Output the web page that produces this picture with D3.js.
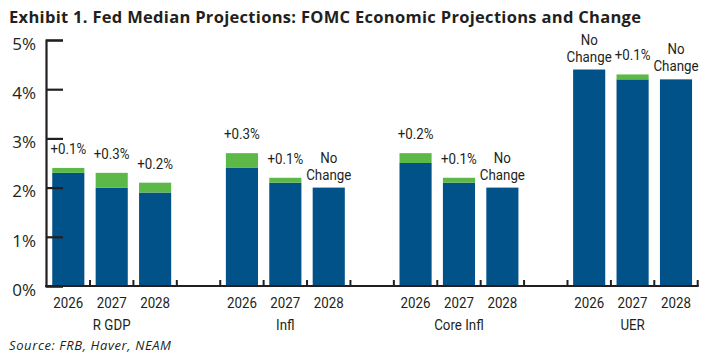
<!DOCTYPE html>
<html><head><meta charset="utf-8">
<script src="https://cdn.jsdelivr.net/npm/d3@7"></script>
<style>
html,body{margin:0;padding:0;background:#fff;}
svg{display:block;}
</style></head>
<body><svg id="chart" width="715" height="356"></svg>
<script>
const groups = ["R GDP", "Infl", "Core Infl", "UER"];
const years = ["2026", "2027", "2028"];
// base (previous projection) values per group, per year
const baseValues = [
  [2.3, 2.0, 1.9],
  [2.4, 2.1, 2.0],
  [2.5, 2.1, 2.0],
  [4.4, 4.2, 4.2]
];
// change vs previous projection
const changeValues = [
  [0.1, 0.3, 0.2],
  [0.3, 0.1, 0.0],
  [0.2, 0.1, 0.0],
  [0.0, 0.1, 0.0]
];
const yTicks = [0, 1, 2, 3, 4, 5];
const titleText = "Exhibit 1. Fed Median Projections: FOMC Economic Projections and Change";
const sourceText = "Source: FRB, Haver, NEAM";

const BLUE = "#015289", GREEN = "#5cb947", INK = "#231f20";
const COND_FONT = "Roboto, 'Noto Sans', sans-serif", COND_SIZE = 15.5, COND_SX = 0.86;

// slots: 3 years per group, one empty slot between groups
const slots = [];
groups.forEach((g, gi) => {
  years.forEach((y, yi) => slots.push({key: g + "|" + y, g: gi, y: yi}));
  if (gi < groups.length - 1) slots.push({key: "gap" + gi, gap: true});
});

const svg = d3.select("#chart");
const pLeft = 46.6, pRight = 697.7, pTop = 40, pBottom = 286;

const x = d3.scaleBand().domain(slots.map(s => s.key)).range([pLeft, pRight]).paddingInner(0.26).paddingOuter(0.13);
const yS = d3.scaleLinear().domain([0, 5]).range([pBottom, pTop]);

function condText(parent, cx, y, lines, lineH) {
  const g = parent.append("g").attr("transform", `translate(${cx},${y}) scale(${COND_SX},1)`);
  const t = g.append("text").attr("font-family", COND_FONT).attr("font-size", COND_SIZE)
    .attr("fill", INK).attr("text-anchor", "middle");
  lines.forEach((l, i) => t.append("tspan").attr("x", 0).attr("y", i * (lineH || 0)).text(l));
  return t;
}

// title
svg.append("text").attr("x", 9).attr("y", 23)
  .attr("font-family", "'Open Sans', sans-serif").attr("font-weight", 700)
  .attr("font-size", 16.5).attr("fill", INK).text(titleText)
  .attr("textLength", 632).attr("lengthAdjust", "spacing");

// bars
const data = slots.filter(s => !s.gap).map(s => ({
  key: s.key, year: years[s.y], base: baseValues[s.g][s.y], change: changeValues[s.g][s.y]
}));
const gBars = svg.append("g");
gBars.selectAll("rect.base").data(data).join("rect").attr("class", "base")
  .attr("x", d => x(d.key)).attr("width", x.bandwidth())
  .attr("y", d => yS(d.base)).attr("height", d => yS(0) - yS(d.base)).attr("fill", BLUE);
gBars.selectAll("rect.chg").data(data.filter(d => d.change > 0)).join("rect").attr("class", "chg")
  .attr("x", d => x(d.key)).attr("width", x.bandwidth())
  .attr("y", d => yS(d.base + d.change)).attr("height", d => yS(d.base) - yS(d.base + d.change)).attr("fill", GREEN);

// data labels
const lab = svg.append("g");
data.forEach(d => {
  const cx = x(d.key) + x.bandwidth() / 2;
  const topY = yS(d.base + d.change);
  if (d.change > 0) condText(lab, cx, topY - 14, ["+" + d.change.toFixed(1) + "%"]);
  else condText(lab, cx, topY - 25, ["No", "Change"], 17);
});

// y axis
const yAxis = d3.axisLeft(yS).tickValues(yTicks).tickSize(-17).tickFormat(d => d + "%").tickPadding(28);
const gy = svg.append("g").attr("transform", `translate(${pLeft - 0.6},0)`).call(yAxis);
gy.select(".domain").attr("stroke", INK).attr("stroke-width", 2.2);
gy.selectAll(".tick line").attr("stroke", INK).attr("stroke-width", 2.2);
gy.selectAll(".tick text").attr("font-family", "'Open Sans', sans-serif").attr("font-size", 17).attr("fill", INK)
  .attr("dy", "0.55em").attr("text-anchor", "end").attr("x", -10);

// x axis: line + boundary ticks
const step = x.step();
const boundaries = slots.map((s, i) => pLeft + (i + 1) * step);
const gx = svg.append("g");
gx.append("line").attr("x1", pLeft - 1.5).attr("x2", pRight + 1).attr("y1", pBottom).attr("y2", pBottom)
  .attr("stroke", INK).attr("stroke-width", 2.2);
gx.selectAll("line.bt").data(boundaries).join("line").attr("class", "bt")
  .attr("x1", d => d).attr("x2", d => d).attr("y1", pBottom).attr("y2", pBottom - 6)
  .attr("stroke", INK).attr("stroke-width", 2);

// year and group labels
const xl = svg.append("g");
data.forEach(d => condText(xl, x(d.key) + x.bandwidth() / 2, 307.5, [d.year]));
groups.forEach(g => condText(xl, x(g + "|" + years[1]) + x.bandwidth() / 2, 329.5, [g]));

// source
svg.append("text").attr("x", 9).attr("y", 350)
  .attr("font-family", "'Open Sans', sans-serif").attr("font-style", "italic")
  .attr("font-size", 13).attr("fill", INK).text(sourceText)
  .attr("textLength", 162).attr("lengthAdjust", "spacing");
</script></body></html>
